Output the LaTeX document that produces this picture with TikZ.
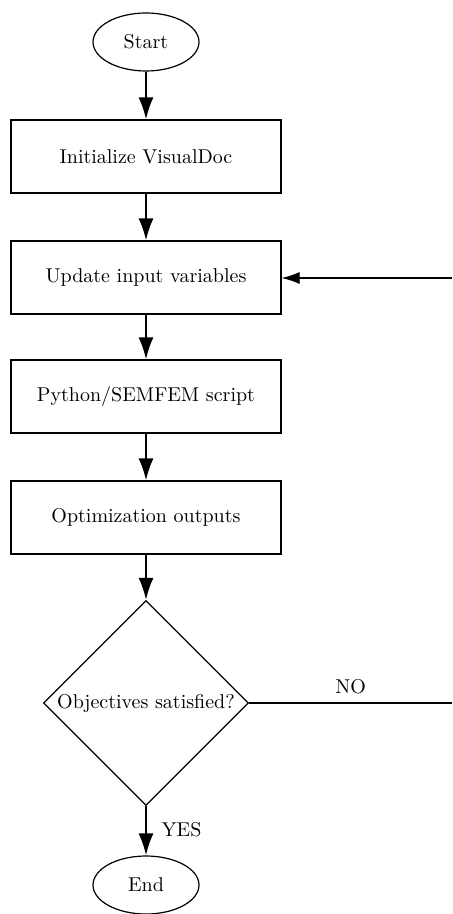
\documentclass[tikz,border=0pt]{standalone}
\usetikzlibrary{shapes.geometric,arrows.meta}
\begin{document}
\begin{tikzpicture}[x=0.5pt,y=-0.5pt,
  font=\fontsize{10}{12}\selectfont,
  stepbox/.style={draw,line width=0.6pt,rectangle,minimum width=135pt,minimum height=36.5pt,inner sep=0pt},
  term/.style={draw,line width=0.6pt,ellipse,minimum width=53pt,minimum height=29pt,inner sep=0pt},
  decision/.style={draw,line width=0.6pt,diamond,minimum width=102.5pt,minimum height=102.5pt,inner sep=0pt},
  flow/.style={line width=1pt,-{Latex[length=11pt,width=7.5pt]}},
  back/.style={line width=0.6pt}]
\useasboundingbox (0,0) rectangle (452,914);
\node[term] (start) at (146,42) {Start};
\node[stepbox] (init) at (146,156.5) {Initialize VisualDoc};
\node[stepbox] (upd) at (146,277.5) {Update input variables};
\node[stepbox] (py) at (146,396.5) {Python/SEMFEM script};
\node[stepbox] (opt) at (146,517.5) {Optimization outputs};
\node[decision] (dec) at (146,703) {Objectives satisfied?};
\node[term] (end) at (146,885) {End};
\coordinate (noend) at (452,703);
\coordinate (backstart) at (452,278);
\draw[flow] (start) -- (init);
\draw[flow] (init) -- (upd);
\draw[flow] (upd) -- (py);
\draw[flow] (py) -- (opt);
\draw[flow] (opt) -- (dec);
\draw[flow] (dec) -- node[right,xshift=4pt,yshift=0.5pt] {YES} (end);
\draw[back] (dec.east) -- node[above,pos=0.5,yshift=1pt] {NO} (noend);
\draw[back,-{Latex[length=9pt,width=6pt]}] (backstart) -- (upd.east |- backstart);
\end{tikzpicture}
\end{document}
